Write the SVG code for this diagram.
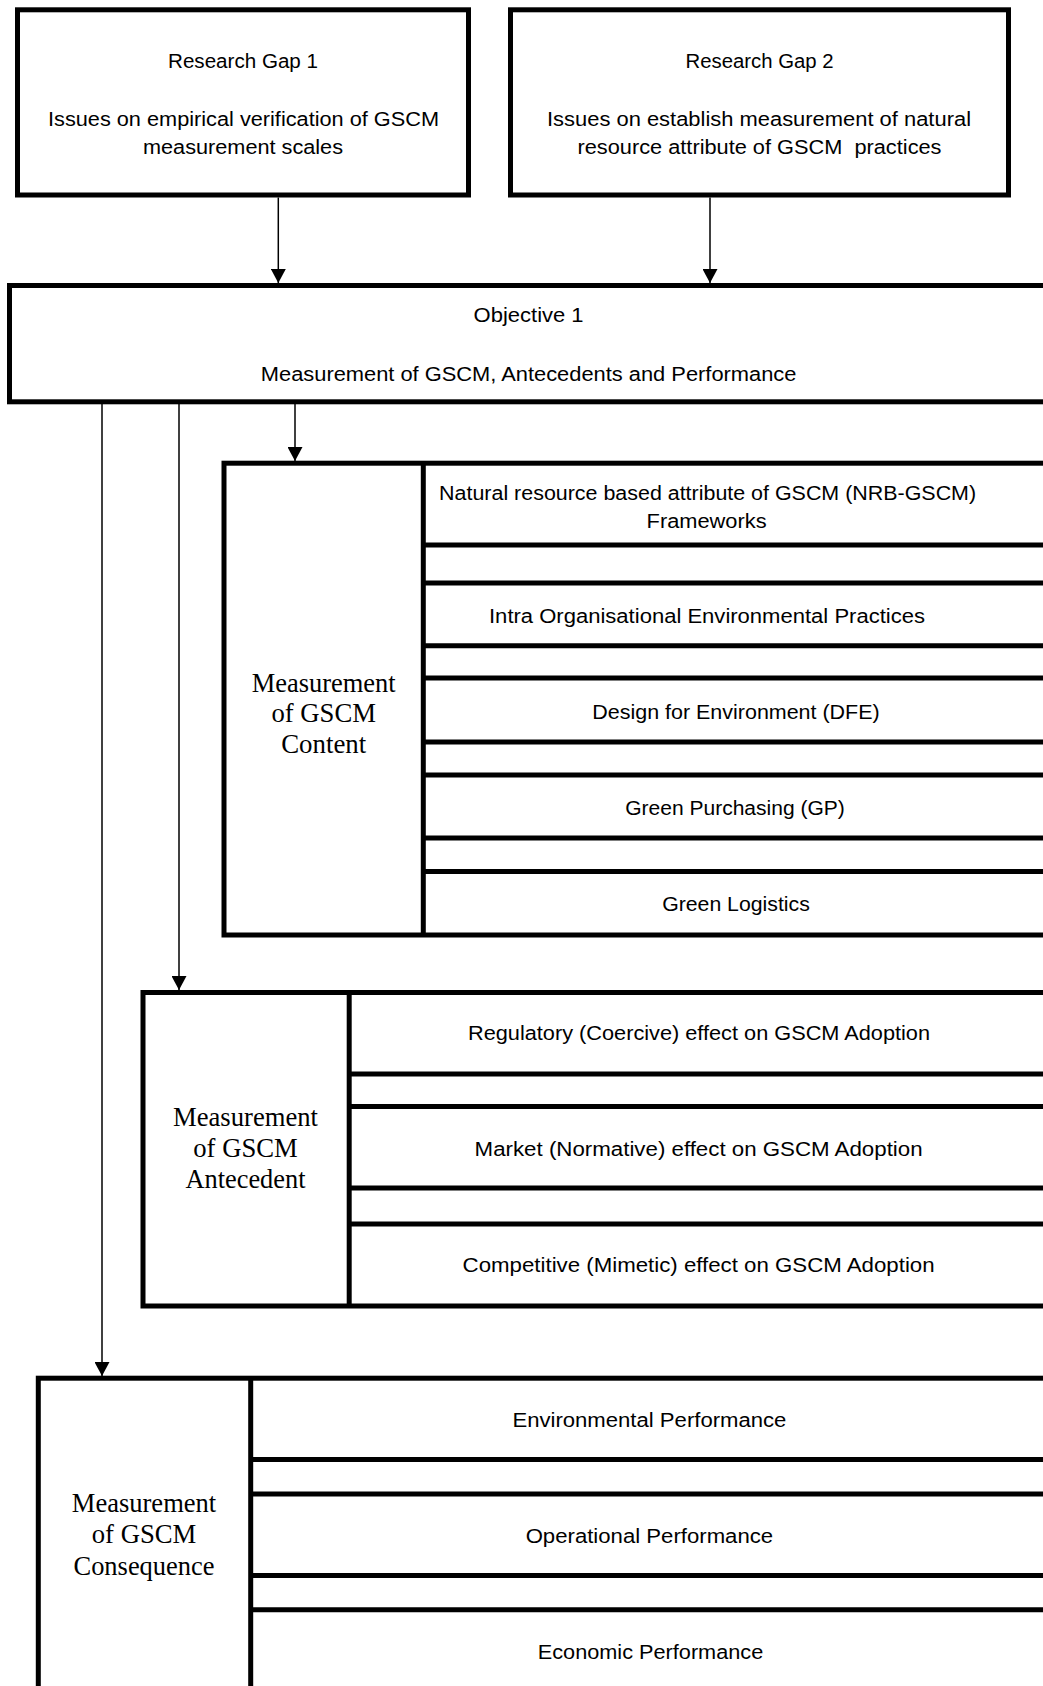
<svg xmlns="http://www.w3.org/2000/svg" width="1043" height="1686" viewBox="0 0 1043 1686">
  <style>
    .box { fill: #fff; stroke: #000; stroke-width: 5; }
    .rule { stroke: #000; stroke-width: 5; fill: none; }
    .t { font-family: "Liberation Sans", Arial, sans-serif; font-size: 20px; text-anchor: middle; fill: #000; }
    .s { font-family: "Liberation Serif", "Times New Roman", serif; font-size: 27px; text-anchor: middle; fill: #000; }
    .conn { stroke: #000; stroke-width: 1.5; fill: none; marker-end: url(#ah); }
  </style>
  <defs>
    <marker id="ah" markerUnits="userSpaceOnUse" markerWidth="15" markerHeight="15" refX="14" refY="7.5" orient="auto">
      <path d="M0,0 L14,7.5 L0,15 Z" fill="#000"/>
    </marker>
  </defs>

  <rect width="1043" height="1686" fill="#fff"/>

  <!-- connectors -->
  <g id="connectors">
    <line class="conn" x1="278.3" y1="197.5" x2="278.3" y2="283"/>
    <line class="conn" x1="710" y1="197.5" x2="710" y2="283"/>
    <line class="conn" x1="295" y1="404" x2="295" y2="461"/>
    <line class="conn" x1="179" y1="404" x2="179" y2="990"/>
    <line class="conn" x1="102" y1="404" x2="102" y2="1376"/>
  </g>

  <!-- research gaps -->
  <g id="gap1">
    <rect class="box" x="17.5" y="9.8" width="451" height="185.2"/>
    <text class="t" x="243" y="67.5" textLength="150" lengthAdjust="spacingAndGlyphs">Research Gap 1</text>
    <text class="t" x="243.5" y="125.5" textLength="391" lengthAdjust="spacingAndGlyphs">Issues on empirical verification of GSCM</text>
    <text class="t" x="243" y="153.5" textLength="200" lengthAdjust="spacingAndGlyphs">measurement scales</text>
  </g>
  <g id="gap2">
    <rect class="box" x="510.5" y="9.8" width="498" height="185.2"/>
    <text class="t" x="759.5" y="67.5" textLength="148" lengthAdjust="spacingAndGlyphs">Research Gap 2</text>
    <text class="t" x="759" y="125.5" textLength="424" lengthAdjust="spacingAndGlyphs">Issues on establish measurement of natural</text>
    <text class="t" x="759.5" y="153.5" textLength="364" lengthAdjust="spacingAndGlyphs" style="white-space:pre">resource attribute of GSCM  practices</text>
  </g>

  <!-- objective -->
  <g id="objective1">
    <rect class="box" x="9.5" y="285.5" width="1041" height="116.3"/>
    <text class="t" x="528.6" y="321.5" textLength="110" lengthAdjust="spacingAndGlyphs">Objective 1</text>
    <text class="t" x="528.6" y="381" textLength="535.6" lengthAdjust="spacingAndGlyphs">Measurement of GSCM, Antecedents and Performance</text>
  </g>

  <!-- GSCM content panel -->
  <g id="content">
    <rect class="box" x="224" y="463.2" width="826" height="471.8"/>
    <line class="rule" x1="423.3" y1="463.2" x2="423.3" y2="935"/>
    <text class="s" x="323.7" y="692" textLength="144" lengthAdjust="spacingAndGlyphs">Measurement</text>
    <text class="s" x="323.7" y="722" textLength="104.5" lengthAdjust="spacingAndGlyphs">of GSCM</text>
    <text class="s" x="323.7" y="752.5" textLength="85" lengthAdjust="spacingAndGlyphs">Content</text>
    <g id="content-nrb">
      <text class="t" x="707.6" y="499.5" textLength="537" lengthAdjust="spacingAndGlyphs">Natural resource based attribute of GSCM (NRB-GSCM)</text>
      <text class="t" x="706.6" y="527.5" textLength="120" lengthAdjust="spacingAndGlyphs">Frameworks</text>
      <line class="rule" x1="423.3" y1="545" x2="1050" y2="545"/>
    </g>
    <g id="content-intra">
      <line class="rule" x1="423.3" y1="583" x2="1050" y2="583"/>
      <text class="t" x="707" y="622.5" textLength="436" lengthAdjust="spacingAndGlyphs">Intra Organisational Environmental Practices</text>
      <line class="rule" x1="423.3" y1="645.8" x2="1050" y2="645.8"/>
    </g>
    <g id="content-dfe">
      <line class="rule" x1="423.3" y1="678" x2="1050" y2="678"/>
      <text class="t" x="736" y="718.5" textLength="287.4" lengthAdjust="spacingAndGlyphs">Design for Environment (DFE)</text>
      <line class="rule" x1="423.3" y1="742" x2="1050" y2="742"/>
    </g>
    <g id="content-gp">
      <line class="rule" x1="423.3" y1="775" x2="1050" y2="775"/>
      <text class="t" x="735" y="815" textLength="219.6" lengthAdjust="spacingAndGlyphs">Green Purchasing (GP)</text>
      <line class="rule" x1="423.3" y1="838" x2="1050" y2="838"/>
    </g>
    <g id="content-gl">
      <line class="rule" x1="423.3" y1="871.5" x2="1050" y2="871.5"/>
      <text class="t" x="736" y="910.5" textLength="147.7" lengthAdjust="spacingAndGlyphs">Green Logistics</text>
    </g>
  </g>

  <!-- GSCM antecedent panel -->
  <g id="antecedent">
    <rect class="box" x="143" y="992.5" width="907" height="313.5"/>
    <line class="rule" x1="349.2" y1="992.5" x2="349.2" y2="1306"/>
    <text class="s" x="245.5" y="1126" textLength="145" lengthAdjust="spacingAndGlyphs">Measurement</text>
    <text class="s" x="245.5" y="1156.7" textLength="104.5" lengthAdjust="spacingAndGlyphs">of GSCM</text>
    <text class="s" x="245.5" y="1187.5" textLength="120" lengthAdjust="spacingAndGlyphs">Antecedent</text>
    <g id="antecedent-regulatory">
      <text class="t" x="699" y="1040" textLength="462" lengthAdjust="spacingAndGlyphs">Regulatory (Coercive) effect on GSCM Adoption</text>
      <line class="rule" x1="349.2" y1="1074" x2="1050" y2="1074"/>
    </g>
    <g id="antecedent-market">
      <line class="rule" x1="349.2" y1="1106.5" x2="1050" y2="1106.5"/>
      <text class="t" x="698.6" y="1155.5" textLength="448" lengthAdjust="spacingAndGlyphs">Market (Normative) effect on GSCM Adoption</text>
      <line class="rule" x1="349.2" y1="1188" x2="1050" y2="1188"/>
    </g>
    <g id="antecedent-competitive">
      <line class="rule" x1="349.2" y1="1224" x2="1050" y2="1224"/>
      <text class="t" x="698.6" y="1272" textLength="472" lengthAdjust="spacingAndGlyphs">Competitive (Mimetic) effect on GSCM Adoption</text>
    </g>
  </g>

  <!-- GSCM consequence panel -->
  <g id="consequence">
    <rect class="box" x="38.3" y="1378.2" width="1012" height="340"/>
    <line class="rule" x1="250.7" y1="1378.2" x2="250.7" y2="1718"/>
    <text class="s" x="144" y="1511.7" textLength="144.4" lengthAdjust="spacingAndGlyphs">Measurement</text>
    <text class="s" x="144" y="1543" textLength="104.5" lengthAdjust="spacingAndGlyphs">of GSCM</text>
    <text class="s" x="144" y="1574.5" textLength="141" lengthAdjust="spacingAndGlyphs">Consequence</text>
    <g id="consequence-environmental">
      <text class="t" x="649.4" y="1426.7" textLength="274" lengthAdjust="spacingAndGlyphs">Environmental Performance</text>
      <line class="rule" x1="250.7" y1="1459.5" x2="1050" y2="1459.5"/>
    </g>
    <g id="consequence-operational">
      <line class="rule" x1="250.7" y1="1494" x2="1050" y2="1494"/>
      <text class="t" x="649.4" y="1543" textLength="247.5" lengthAdjust="spacingAndGlyphs">Operational Performance</text>
      <line class="rule" x1="250.7" y1="1575.5" x2="1050" y2="1575.5"/>
    </g>
    <g id="consequence-economic">
      <line class="rule" x1="250.7" y1="1609.7" x2="1050" y2="1609.7"/>
      <text class="t" x="650.5" y="1659.3" textLength="225.5" lengthAdjust="spacingAndGlyphs">Economic Performance</text>
    </g>
  </g>
</svg>
